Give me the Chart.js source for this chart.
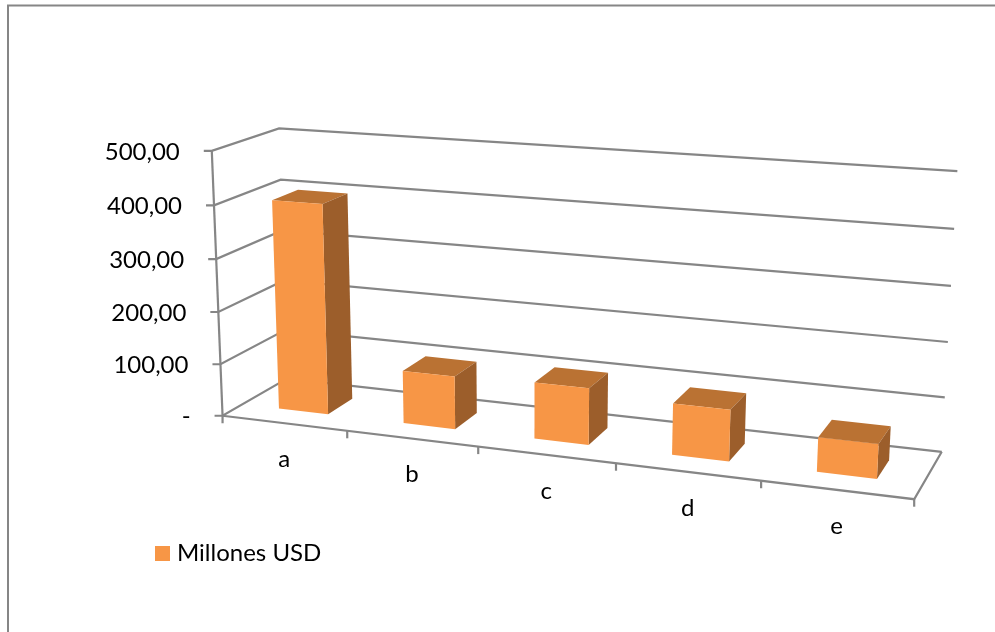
<!DOCTYPE html>
<html>
<head>
<meta charset="utf-8">
<title>Millones USD</title>
<script src="https://cdn.jsdelivr.net/npm/chart.js@4"></script>
<style>
    html, body { margin: 0; padding: 0; background: #fff; overflow: hidden; }
    canvas { display: block; }
</style>
</head>
<body>
<canvas id="chart" width="995" height="632"></canvas>
<script>
const categories = ['a', 'b', 'c', 'd', 'e'];
const seriesName = 'Millones USD';
const seriesValues = [400, 100, 105, 94, 62];
const valueTickLabels = ['-', '100,00', '200,00', '300,00', '400,00', '500,00'];

const FONT = '24px Lato';
const LINE = '#868686';
const FRONT = '#F79646';
const TOP = '#BA7233';
const SIDE = '#9C5E2B';
const BAR_DEPTH = [0.3, 0.7];   // gap depth 150%

// box corners as [across, depth, height, screen x, screen y]
const boxRefs = [
    [0, 0, 0, 224, 415], [1, 0, 0, 914, 499], [1, 1, 0, 942, 451.5], [0, 1, 0, 285, 378.4],
    [0, 0, 1, 209.5, 151], [0, 1, 1, 280, 128], [1, 1, 1, 957, 171],
    [0, 0, 0.2, 221.5, 364], [0, 0, 0.4, 219, 312], [0, 0, 0.6, 216, 259], [0, 0, 0.8, 213, 205],
    [1, 1, 0.2, 945, 397], [1, 1, 0.4, 948, 342], [1, 1, 0.6, 951, 286], [1, 1, 0.8, 954, 229],
    [0, 1, 0.2, 284, 330], [0, 1, 0.4, 283.5, 280.4], [0, 1, 0.6, 283, 230.4], [0, 1, 0.8, 282, 181],
    [0, 1, 1, 280, 128],
    [0.2, 0, 0, 348, 431], [0.4, 0, 0, 478, 447], [0.6, 0, 0, 616, 464], [0.8, 0, 0, 761, 481]
];

// least squares fit of the perspective camera for the box
function fitCamera(refs) {
    const n = 11;
    const ata = Array.from({ length: n }, () => new Array(n + 1).fill(0));
    const addRow = (row, b) => {
        for (let i = 0; i < n; i++) {
            for (let j = 0; j < n; j++) ata[i][j] += row[i] * row[j];
            ata[i][n] += row[i] * b;
        }
    };
    refs.forEach(([u, v, w, x, y]) => {
        addRow([u, v, w, 1, 0, 0, 0, 0, -x * u, -x * v, -x * w], x);
        addRow([0, 0, 0, 0, u, v, w, 1, -y * u, -y * v, -y * w], y);
    });
    for (let c = 0; c < n; c++) {
        let pivot = c;
        for (let r = c + 1; r < n; r++) {
            if (Math.abs(ata[r][c]) > Math.abs(ata[pivot][c])) pivot = r;
        }
        [ata[c], ata[pivot]] = [ata[pivot], ata[c]];
        for (let r = 0; r < n; r++) {
            if (r === c) continue;
            const f = ata[r][c] / ata[c][c];
            for (let k = c; k <= n; k++) ata[r][k] -= f * ata[c][k];
        }
    }
    return ata.map((row, i) => row[n] / row[i]);
}

const cam = fitCamera(boxRefs);

function project(u, v, w) {
    const h = cam[8] * u + cam[9] * v + cam[10] * w + 1;
    return [
        (cam[0] * u + cam[1] * v + cam[2] * w + cam[3]) / h,
        (cam[4] * u + cam[5] * v + cam[6] * w + cam[7]) / h
    ];
}

function strokePath(ctx, points) {
    ctx.beginPath();
    points.forEach((p, i) => i ? ctx.lineTo(p[0], p[1]) : ctx.moveTo(p[0], p[1]));
    ctx.stroke();
}

function fillQuad(ctx, points, color) {
    ctx.fillStyle = color;
    ctx.beginPath();
    points.forEach((p, i) => i ? ctx.lineTo(p[0], p[1]) : ctx.moveTo(p[0], p[1]));
    ctx.closePath();
    ctx.fill();
}

const box3d = {
    id: 'box3d',
    beforeDatasetsDraw(chart) {
        const ctx = chart.ctx;
        const area = chart.chartArea;
        const xScale = chart.scales.x;
        const yScale = chart.scales.y;
        const toU = px => (px - area.left) / area.width;
        const toW = py => (area.bottom - py) / area.height;

        ctx.save();
        ctx.strokeStyle = LINE;
        ctx.fillStyle = '#000';
        ctx.font = FONT;

        // outer chart border
        ctx.lineWidth = 2;
        strokePath(ctx, [[8, 640], [8, 5.5], [1000, 5.5]]);

        // walls, floor and value axis
        ctx.lineWidth = 2.2;
        ctx.textAlign = 'right';
        ctx.textBaseline = 'middle';
        yScale.ticks.forEach(tick => {
            const w = toW(yScale.getPixelForValue(tick.value));
            const front = project(0, 0, w);
            strokePath(ctx, [[front[0] - 8, front[1]], front, project(0, 1, w), project(1, 1, w)]);
            ctx.fillText(tick.label, front[0] - 32, front[1] + 1);
        });
        strokePath(ctx, [project(0, 0, 0), project(0, 0, 1)]);
        strokePath(ctx, [project(0, 0, 0), project(1, 0, 0), project(1, 1, 0)]);

        // category ticks and labels along the front edge
        ctx.textAlign = 'center';
        categories.forEach((name, i) => {
            const half = xScale.getPixelForValue(i) - area.left;
            const mid = project(half / area.width, 0, 0);
            ctx.fillText(xScale.getLabelForValue(i), mid[0], mid[1] + 36);
        });
        for (let i = 0; i <= categories.length; i++) {
            const p = project(i / categories.length, 0, 0);
            strokePath(ctx, [p, [p[0], p[1] + 7.5]]);
        }

        // bars as cuboids, placed from the bar elements
        chart.getDatasetMeta(0).data.forEach(bar => {
            const u0 = toU(bar.x - bar.width / 2);
            const u1 = toU(bar.x + bar.width / 2);
            const w0 = toW(bar.base);
            const w1 = toW(bar.y);
            const [v0, v1] = BAR_DEPTH;
            fillQuad(ctx, [project(u0, v0, w1), project(u1, v0, w1), project(u1, v1, w1), project(u0, v1, w1)], TOP);
            fillQuad(ctx, [project(u1, v0, w0), project(u1, v1, w0), project(u1, v1, w1), project(u1, v0, w1)], SIDE);
            fillQuad(ctx, [project(u0, v0, w0), project(u1, v0, w0), project(u1, v0, w1), project(u0, v0, w1)], FRONT);
        });

        // legend
        ctx.fillStyle = FRONT;
        ctx.fillRect(155, 546, 15, 15);
        ctx.fillStyle = '#000';
        ctx.textAlign = 'left';
        ctx.fillText(chart.data.datasets[0].label, 177, 553);
        ctx.restore();
    },
    beforeDatasetDraw() {
        return false;
    }
};

new Chart(document.getElementById('chart'), {
    type: 'bar',
    data: {
        labels: categories,
        datasets: [{
            label: seriesName,
            data: seriesValues,
            backgroundColor: FRONT,
            categoryPercentage: 1,
            barPercentage: 0.4
        }]
    },
    options: {
        responsive: false,
        animation: false,
        layout: { padding: { left: 224, right: 81, top: 151, bottom: 217 } },
        plugins: { legend: { display: false }, tooltip: { enabled: false } },
        scales: {
            x: { display: false },
            y: {
                display: false,
                min: 0,
                max: 500,
                ticks: { stepSize: 100, callback: (value, i) => valueTickLabels[i] }
            }
        }
    },
    plugins: [box3d]
});
</script>
</body>
</html>
